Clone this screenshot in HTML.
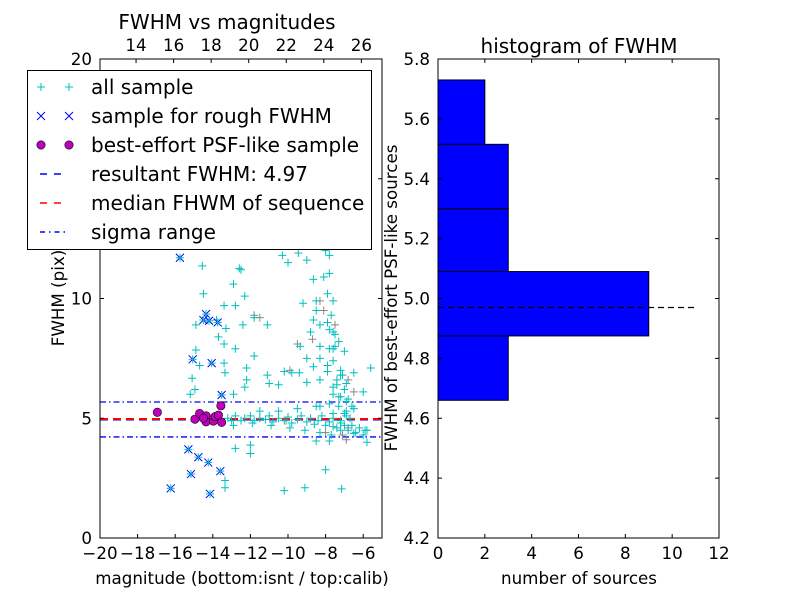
<!DOCTYPE html>
<html><head><meta charset="utf-8"><style>
body{margin:0;background:#fff;}
svg{display:block;font-family:"DejaVu Sans","Liberation Sans",sans-serif;}
</style></head><body>
<svg id="c" width="800" height="600" xmlns="http://www.w3.org/2000/svg">
<rect width="800" height="600" fill="#fff"/>
<g id="L"></g>
<g id="R"></g>
</svg>
<script>
// ---- data ----
const allX=[-13.2,-13.0,-12.8,-12.5,-12.3,-12.0,-11.8,-11.5,-11.2,-11,-10.8,-10.5,-10.2,-10,-9.8,-9.5,-9.3,-9.0,-8.8,-8.6,-8.4,-8.2,-8.0,-7.8,-7.6,-7.4,-7.2,-7.0,-6.8,-6.6,-6.4,-6.2,-6,-5.8,-12.9,-11.9,-10.9,-9.9,-9.1,-8.3,-7.7,-11.5,-10.5,-9.5,-8.5,
-14.56,-12.59,-12.9,-14.5,-12.3,-13.4,-12.8,-14.9,-13.8,-13.3,-12.4,-11.8,-11.1,-13.7,-13.4,-14.9,-12.8,-11.8,-14.7,-13.4,-13.35,-12.2,-11.1,-10.2,-9.8,-9.4,-11,-10.5,-12.2,-12.3,-15.1,-14.95,-15.2,-12.9,
-10.0,-9.45,-9.0,-7.8,-7.8,-8.65,-8.1,-7.9,-8.5,-7.6,-9.2,-8.5,-8.65,-7.9,-8.3,-7.6,-8.8,-8.3,-7.8,-9.35,-9.0,-8.3,-7.6,-8.65,-7.9,-7.2,-6.5,-5.6,-7.6,-8.3,-9.0,-6.9,-6.0,-7.2,-7.8,-8.3,-6.5,-6.9,-7.2,-7.6,-6.5,-5.9,-5.8,-8.5,-7.8,-12.8,-12.0,-12.0,-13.35,-13.35,-10.2,-9.1,-8.0,-7.15,
-7.5,-7.3,-7.0,-7.6,-7.2,-7.4,-7,-6.8,-7.6,-6.6,-6.9,-7.3,-8.2,-8.6,-9.1,-7.9,-10.3,-12.5,-7.5,-8,
-7.7,-7.5,-7.1,-7.9,-7.3,-6.9,-7.6,-7.2,-7.0,-6.7,-7.4,-7.8];
const allY=[5.0,4.9,5.1,4.9,5.0,5.1,4.9,5.0,4.95,5.1,4.85,5.0,4.9,5.05,4.8,4.95,5.1,4.85,5.0,4.75,4.9,5.1,4.7,4.85,5.0,4.6,4.8,5.2,4.5,4.7,4.4,4.6,4.3,4.5,4.7,4.8,4.7,4.6,4.5,4.4,4.3,5.3,5.3,5.4,5.5,
11.36,11.26,10.6,10.2,10.1,9.7,9.7,8.9,9.1,8.75,8.9,9.2,8.9,8.4,8.1,7.85,7.9,7.6,7.2,7.3,6.9,7.1,6.8,6.95,6.9,6.9,6.45,6.4,6.6,6.3,6.67,6.2,6.0,6.0,
11.5,11.9,11.6,11.8,11.05,10.8,10.9,10.2,9.9,9.9,9.8,9.5,9.1,9.0,8.9,8.6,8.6,8.0,7.9,8.0,7.5,7.5,7.4,7.15,6.95,6.8,6.9,7.1,6.3,6.6,6.5,6.45,6.1,5.9,5.6,5.5,5.4,5.1,4.5,4.65,4.37,4.5,4.0,4.05,4.05,3.74,3.88,3.53,2.4,2.1,1.98,2.1,2.85,2.05,
8.5,8.2,7.8,7.9,7.0,6.6,6.2,5.8,6.0,5.5,5.3,5.5,12.8,12.3,12.9,13.3,11.8,11.2,12.5,12.0,
9.3,8.0,6.8,7.2,5.9,5.7,5.2,4.9,4.7,5.0,6.4,8.7];
const grayX=[-8.3,-8.1,-7.5,-8.7,-11.8,-11.5,-6.8,-6.5,-7.1,-6.8,-9.9,-9.5,-6.9,-8,-10.1];
const grayY=[9.9,9.5,8.9,8.3,9.3,9.2,6.6,6.1,4.3,4.6,7.0,8.1,4.1,4.4,4.9];
const roughX=[-15.75,-14.36,-14.5,-14.2,-13.74,-15.07,-14.06,-13.53,-15.3,-14.77,-14.24,-13.6,-15.16,-16.24,-14.15];
const roughY=[11.7,9.35,9.1,9.07,9.0,7.46,7.3,5.97,3.7,3.37,3.15,2.79,2.67,2.07,1.84];
const psfX=[-16.95,-14.95,-14.7,-14.36,-14.36,-13.97,-13.88,-13.7,-13.53,-13.57,-14.5];
const psfY=[5.25,4.96,5.2,5.1,4.85,4.88,5.07,5.13,4.83,5.52,5.0];
const resultFWHM=4.97, medianFWHM=4.97, sigmaLo=4.22, sigmaHi=5.68;
const binEdges=[4.66,4.875,5.09,5.30,5.515,5.73];
const binCounts=[3,9,3,3,2];
const xTicksL=[-20,-18,-16,-14,-12,-10,-8,-6];
const xTickLabelsL=["\u221220","\u221218","\u221216","\u221214","\u221212","\u221210","\u22128","\u22126"];
const yTicksL=[0,5,10,15,20];
const topTicks=[14,16,18,20,22,24,26];
const xTicksR=[0,2,4,6,8,10,12];
const yTicksR=[4.2,4.4,4.6,4.8,5.0,5.2,5.4,5.6,5.8];

const FT=16.7, FB=20;
const NS="http://www.w3.org/2000/svg";
function mk(p,t,a,txt){const e=document.createElementNS(NS,t);for(const k in a)e.setAttribute(k,a[k]);if(txt!==undefined)e.textContent=txt;p.appendChild(e);return e;}
const L=document.getElementById('L');
const lx0=100,lx1=382,ly0=538,ly1=59;
const xL=v=>lx0+(v+20)/15*(lx1-lx0);
const yL=v=>ly0-(v/20)*(ly0-ly1);
const xTop=v=>lx0+(v-12.08)/(27.1-12.08)*(lx1-lx0);
let e;
e=mk(L,'line',{x1:lx0,x2:lx1,y1:yL(sigmaHi),y2:yL(sigmaHi),stroke:'#00f','stroke-dasharray':'6,3,1.5,3','stroke-width':1.3});

e=mk(L,'line',{x1:lx0,x2:lx1,y1:yL(sigmaLo),y2:yL(sigmaLo),stroke:'#00f','stroke-dasharray':'6,3,1.5,3','stroke-width':1.3});

e=mk(L,'line',{x1:lx0,x2:lx1,y1:yL(resultFWHM)+0.8,y2:yL(resultFWHM)+0.8,stroke:'#00f','stroke-dasharray':'8,5','stroke-width':1.5});

e=mk(L,'line',{x1:lx0,x2:lx1,y1:yL(medianFWHM),y2:yL(medianFWHM),stroke:'#f00','stroke-dasharray':'8,5','stroke-width':2});

function plus(x,y,c,n){const g=mk(L,'path',{d:`M${x-4} ${y}h8M${x} ${y-4}v8`,stroke:c,'stroke-width':1,fill:'none'});}
grayX.forEach((v,i)=>plus(xL(v),yL(grayY[i]),'#888','gray-point'));
allX.forEach((v,i)=>plus(xL(v),yL(allY[i]),'#00bfbf','all-sample-point'));
roughX.forEach((v,i)=>{const x=xL(v),y=yL(roughY[i]);const g=mk(L,'path',{d:`M${x-4} ${y-4}l8 8M${x-4} ${y+4}l8 -8`,stroke:'#00f','stroke-width':1,fill:'none'});plus(x,y,'#00bfbf','all-sample-point');});
psfX.forEach((v,i)=>{const c=mk(L,'circle',{cx:xL(v),cy:yL(psfY[i]),r:4.2,fill:'#bf00bf',stroke:'#000','stroke-width':0.6});});
e=mk(L,'rect',{x:lx0,y:ly1,width:lx1-lx0,height:ly0-ly1,fill:'none',stroke:'#000','stroke-width':1});

xTicksL.forEach((v,i)=>{const x=xL(v);mk(L,'path',{d:`M${x} ${ly0}v-4`,stroke:'#000'});const t=mk(L,'text',{x:x,y:ly0+21,'font-size':FT,'text-anchor':'middle'},xTickLabelsL[i]);});
topTicks.forEach(v=>{const x=xTop(v);mk(L,'path',{d:`M${x} ${ly1}v4`,stroke:'#000'});const t=mk(L,'text',{x:x,y:ly1-8,'font-size':FT,'text-anchor':'middle'},String(v));});
yTicksL.forEach(v=>{const y=yL(v);mk(L,'path',{d:`M${lx0} ${y}h4M${lx1} ${y}h-4`,stroke:'#000'});const t=mk(L,'text',{x:lx0-8,y:y+6,'font-size':FT,'text-anchor':'end'},String(v));});
e=mk(L,'text',{x:242,y:584,'font-size':FT,'text-anchor':'middle'},'magnitude (bottom:isnt / top:calib)');

e=mk(L,'text',{x:0,y:0,'font-size':FT,'text-anchor':'middle',transform:'translate(64,298) rotate(-90)'},'FWHM (pix)');

e=mk(L,'text',{x:227,y:29,'font-size':FB,'text-anchor':'middle'},'FWHM vs magnitudes');

const lg=mk(L,'g',{});

mk(lg,'rect',{x:27.5,y:70.5,width:344,height:179,fill:'#fff',stroke:'#000','stroke-width':1});
const labs=['all sample','sample for rough FWHM','best-effort PSF-like sample','resultant FWHM: 4.97','median FHWM of sequence','sigma range'];
labs.forEach((s,i)=>{const y=87+i*29;
 if(i==0){[41,69].forEach(x=>mk(lg,'path',{d:`M${x-4} ${y}h8M${x} ${y-4}v8`,stroke:'#00bfbf'}));}
 if(i==1){[41,69].forEach(x=>mk(lg,'path',{d:`M${x-4} ${y-4}l8 8M${x-4} ${y+4}l8 -8`,stroke:'#00f'}));}
 if(i==2){[41,69].forEach(x=>mk(lg,'circle',{cx:x,cy:y,r:4.2,fill:'#bf00bf',stroke:'#000','stroke-width':0.6}));}
 if(i==3)mk(lg,'line',{x1:40,x2:68,y1:y,y2:y,stroke:'#00f','stroke-dasharray':'7,7','stroke-width':1.5});
 if(i==4)mk(lg,'line',{x1:40,x2:68,y1:y,y2:y,stroke:'#f00','stroke-dasharray':'7,7','stroke-width':1.5});
 if(i==5)mk(lg,'line',{x1:40,x2:68,y1:y,y2:y,stroke:'#00f','stroke-dasharray':'5,4,1.5,4','stroke-width':1.5});
 const t=mk(lg,'text',{x:91,y:y+7,'font-size':FB},s);
});
const R=document.getElementById('R');
const rx0=438,rx1=719,ry0=538,ry1=59;
const xR=v=>rx0+v/12*(rx1-rx0);
const yR=v=>ry0-(v-4.2)/1.6*(ry0-ry1);
binCounts.forEach((c,i)=>{const r=mk(R,'rect',{x:xR(0),y:yR(binEdges[i+1]),width:xR(c)-xR(0),height:yR(binEdges[i])-yR(binEdges[i+1]),fill:'#0000ff',stroke:'#000','stroke-width':1});});
e=mk(R,'line',{x1:xR(0),x2:xR(11),y1:yR(resultFWHM),y2:yR(resultFWHM),stroke:'#000','stroke-dasharray':'6,4','stroke-width':1.2});

e=mk(R,'rect',{x:rx0,y:ry1,width:rx1-rx0,height:ry0-ry1,fill:'none',stroke:'#000'});

xTicksR.forEach(v=>{const x=xR(v);mk(R,'path',{d:`M${x} ${ry0}v-4M${x} ${ry1}v4`,stroke:'#000'});const t=mk(R,'text',{x:x,y:ry0+21,'font-size':FT,'text-anchor':'middle'},String(v));});
yTicksR.forEach(v=>{const y=yR(v);mk(R,'path',{d:`M${rx0} ${y}h4M${rx1} ${y}h-4`,stroke:'#000'});const t=mk(R,'text',{x:rx0-8,y:y+6,'font-size':FT,'text-anchor':'end'},v.toFixed(1));});
e=mk(R,'text',{x:579,y:584,'font-size':FT,'text-anchor':'middle'},'number of sources');

e=mk(R,'text',{x:0,y:0,'font-size':FT,'text-anchor':'middle',transform:'translate(397,298) rotate(-90)'},'FWHM of best-effort PSF-like sources');

e=mk(R,'text',{x:579,y:53,'font-size':FB,'text-anchor':'middle'},'histogram of FWHM');

</script>
</body></html>
